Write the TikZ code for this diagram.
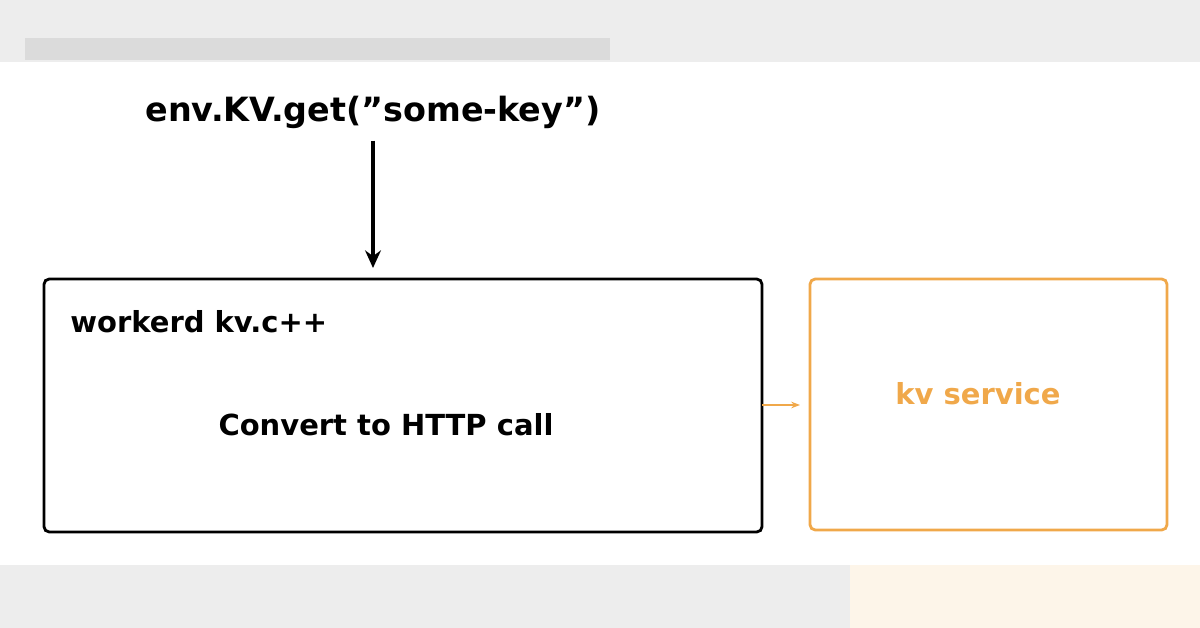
\documentclass[tikz,border=0pt]{standalone}
\usepackage{fontspec}
\setmainfont{DejaVu Sans}
\usetikzlibrary{arrows.meta,positioning}
\definecolor{kvorange}{HTML}{F0A84A}
\definecolor{bandgrey}{HTML}{EDEDED}
\tikzset{
  label/.style={font=\fontsize{16.5pt}{20pt}\selectfont\bfseries, inner sep=0pt},
  box/.style={draw, line width=1.6pt, rounded corners=3pt}
}
\begin{document}
\begin{tikzpicture}[x=0.02cm, y=-0.02cm]
  \useasboundingbox (0,0) rectangle (1200,628);
  % Bands
  \fill[bandgrey] (0,0) rectangle (1200,62);
  \fill[black!14] (25,38) rectangle (610,60);
  \fill[bandgrey] (0,565) rectangle (1200,628);
  \fill[kvorange!12] (850,565) rectangle (1200,628);

  % Nodes
  \node[label, font=\fontsize{19pt}{23pt}\selectfont\bfseries] (call) at (373,112) {env.KV.get(\symbol{34}some-key\symbol{34})};
  \coordinate (worker top) at (373,268);
  \draw[box] (44,279) rectangle (762,532);
  \node[label, anchor=west] (worker) at (70,322) {workerd kv.c++};
  \node[label] (convert) at (386,425) {Convert to HTTP call};
  \draw[box, kvorange] (810,279) rectangle (1167,530);
  \node[label, text=kvorange] (service) at (978,394) {kv service};
  \coordinate (out a) at (762,405);
  \coordinate (out b) at (800,405);

  % Arrows
  \draw[line width=1.8pt, -{Stealth[length=10pt,width=9pt]}] (call.south) ++(0,12) -- (worker top);
  \draw[kvorange, line width=1.6pt, -{Stealth[length=5pt]}] (out a) -- (out b);
\end{tikzpicture}
\end{document}
